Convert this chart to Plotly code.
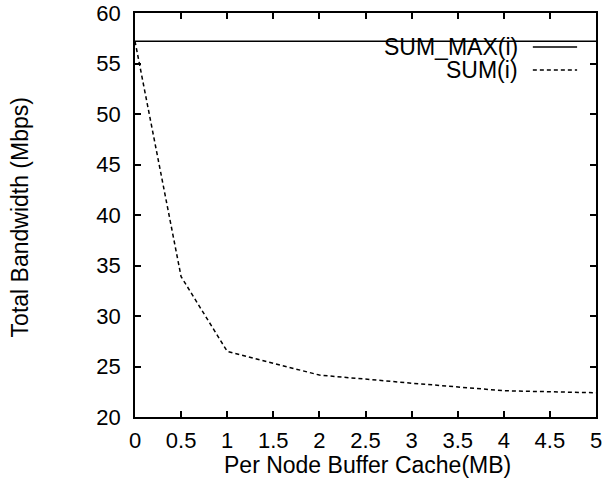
import plotly.graph_objects as go

x_mb = [0, 0.5, 1, 2, 3, 4, 5]
sum_max = [57.2, 57.2, 57.2, 57.2, 57.2, 57.2, 57.2]
sum_i = [57.2, 33.9, 26.5, 24.15, 23.35, 22.6, 22.4]
legend_labels = ["SUM_MAX(i)", "SUM(i)"]
x_title = "Per Node Buffer Cache(MB)"
y_title = "Total Bandwidth (Mbps)"

FONT = "Liberation Sans, Arial, Helvetica, sans-serif"

fig = go.Figure()
fig.add_trace(go.Scatter(x=x_mb, y=sum_max, mode="lines", name=legend_labels[0],
                         line=dict(color="black", width=1.5), showlegend=False))
fig.add_trace(go.Scatter(x=x_mb, y=sum_i, mode="lines", name=legend_labels[1],
                         line=dict(color="black", width=1.5, dash="4px,3px"), showlegend=False))

# gnuplot-style legend: text right-aligned, sample to the right
leg_y = [0.916, 0.859]
dashes = ["solid", "4px,3px"]
for lab, yy, d in zip(legend_labels, leg_y, dashes):
    fig.add_annotation(x=0.835, y=yy, xref="paper", yref="paper", text=lab,
                       showarrow=False, xanchor="right", yanchor="middle",
                       font=dict(family=FONT, size=23, color="black"))
    fig.add_shape(type="line", xref="paper", yref="paper", x0=0.863, x1=0.959,
                  y0=yy, y1=yy, line=dict(color="black", width=1.5, dash=d))

# axis titles
fig.add_annotation(x=0.504, y=-0.119, xref="paper", yref="paper", text=x_title,
                   showarrow=False, xanchor="center", yanchor="middle",
                   font=dict(family=FONT, size=23, color="black"))
fig.add_annotation(x=-0.2495, y=0.494, xref="paper", yref="paper", text=y_title,
                   showarrow=False, xanchor="center", yanchor="middle", textangle=-90,
                   font=dict(family=FONT, size=23, color="black"))

axis_common = dict(showline=True, linecolor="black", linewidth=1.5, mirror="ticks",
                   ticks="inside", ticklen=6, tickwidth=1.5, tickcolor="black",
                   showgrid=False, zeroline=False, automargin=False,
                   ticklabeloverflow="allow",
                   tickfont=dict(family=FONT, size=22, color="black"))

fig.update_xaxes(range=[0, 5], dtick=0.5, tick0=0, ticklabelstandoff=3, **axis_common)
fig.update_yaxes(range=[20, 60], dtick=5, tick0=20, ticklabelstandoff=8, **axis_common)

fig.update_layout(width=602, height=478, margin=dict(l=135, r=6, t=13, b=61),
                  plot_bgcolor="white", paper_bgcolor="white", showlegend=False)

# remove the browser's default 8px body margin so the figure fills the window
fig.write_html("out.html", config={"displayModeBar": False},
               post_script="document.body.style.margin='0px';")
